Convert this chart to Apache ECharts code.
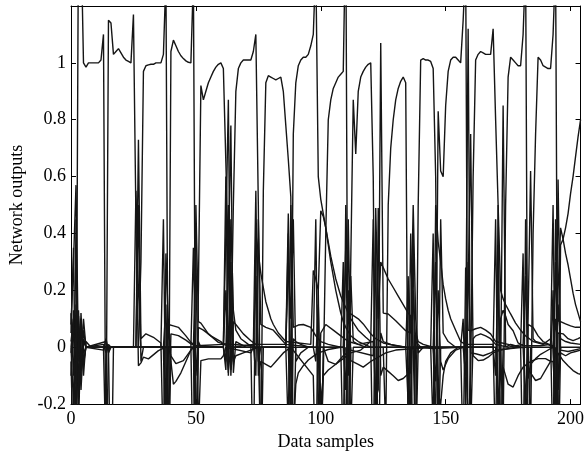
<!DOCTYPE html>
<html><head><meta charset="utf-8">
<script src="https://cdn.jsdelivr.net/npm/echarts@6/dist/echarts.min.js"></script>
<style>html,body{margin:0;padding:0;background:#fff}#c{width:587px;height:456px}</style>
</head><body><div id="c"></div>
<script>
// ---- tick labels ----
const xTickLabels = [0, 50, 100, 150, 200];
const yTickLabels = [-0.2, 0, 0.2, 0.4, 0.6, 0.8, 1];

// ---- active (high) output segments: [sample, output] ----
const seg01 = [[0,0],[1,0.1],[2,-0.4],[3,1.5],[4,1.45],[5,1.0],[6,0.985],[7,1.0],[8,1.0],[9,1.0],[10,1.0],[11,1.0],[12,1.01],[13,1.1],[14,-0.5],[15,0]];
const seg02 = [[13,0],[14,-0.4],[15,1.15],[16,1.14],[17,1.03],[18,1.04],[19,1.05],[20,1.035],[21,1.02],[22,1.01],[23,1.005],[24,1.0],[25,1.17],[26,0.45],[27,-0.065],[28,-0.055],[29,-0.035],[31,-0.041],[35,-0.012],[38,0]];
const seg03 = [[27,0],[28,0.3],[29,0.97],[30,0.99],[31,0.993],[32,0.995],[33,0.995],[34,1.0],[35,1.0],[36,1.0],[37,1.03],[38,1.3],[39,-0.5],[40,0]];
const seg04 = [[38,0],[39,-0.5],[40,1.04],[41,1.08],[42,1.06],[43,1.04],[44,1.025],[45,1.015],[46,1.007],[47,1.002],[48,1.0],[49,1.3],[50,-0.5],[51,0]];
const seg05 = [[49,0],[50,-0.5],[51,0.2],[52,0.92],[53,0.87],[54,0.9],[55,0.93],[56,0.95],[57,0.97],[58,0.985],[59,0.995],[60,1.0],[61,0.98],[62,0.65],[63,0.3],[64,-0.08],[65,0]];
const seg06 = [[62,0],[63,-0.08],[64,0],[65,0.5],[66,0.9],[67,0.98],[68,1.0],[69,1.01],[70,1.01],[71,1.01],[72,1.01],[73,1.04],[74,1.1],[75,0.5],[76,-0.5],[77,0]];
const seg07 = [[75,0],[76,-0.4],[77,0.55],[78,0.93],[79,0.955],[80,0.95],[81,0.945],[82,0.94],[83,0.945],[84,0.95],[85,0.9],[86,0.78],[87,0.66],[88,0.53],[89,-0.4],[90,0]];
const seg08 = [[87,0],[88,-0.3],[89,0.75],[90,0.93],[91,0.99],[92,1.01],[93,1.02],[94,1.02],[95,1.03],[96,1.06],[97,1.1],[98,1.35],[99,0.6],[100,0.52],[101,0.47],[102,0.42],[103,0.36],[104,0.3],[105,0.25],[106,0.2],[107,0.16],[108,0.12],[109,0.09],[110,0.07],[112,0.04],[115,0.02],[120,0]];
const seg09 = [[99,0],[100,-0.4],[101,-0.1],[102,0.4],[103,0.8],[104,0.87],[105,0.91],[106,0.93],[107,0.95],[108,0.96],[109,0.97],[110,1.5],[111,-0.5],[112,0]];
const seg10 = [[110,0],[111,-0.4],[112,0.3],[113,0.87],[114,0.68],[115,0.9],[116,0.95],[117,0.97],[118,0.985],[119,0.995],[120,1.0],[121,0.6],[122,-0.4],[123,0]];
const seg11 = [[125,0],[126,-0.3],[127,0.5],[128,0.7],[129,0.8],[130,0.87],[131,0.91],[132,0.935],[133,0.95],[134,0.93],[135,-0.4],[136,0]];
const seg12 = [[137,0],[138,-0.4],[139,0.5],[140,1.01],[141,1.015],[142,1.01],[143,1.01],[144,1.005],[145,0.98],[146,0.6],[147,-0.4],[148,0]];
const seg13 = [[145,0],[146,-0.3],[147,0.83],[148,0.62],[149,0.6],[150,0.85],[151,0.97],[152,1.01],[153,1.02],[154,1.02],[155,1.01],[156,1.0],[157,1.15],[158,1.35],[159,-0.5],[160,0]];
const seg14 = [[158,0],[159,-0.3],[160,-0.1],[161,0.6],[162,1.01],[163,1.03],[164,1.04],[165,1.035],[166,1.03],[167,1.03],[168,1.03],[169,1.12],[170,0.8],[171,0.5],[172,-0.4],[173,0]];
const seg15 = [[172,0],[173,-0.3],[174,0.5],[175,0.95],[176,1.02],[177,1.01],[178,1.0],[179,0.99],[180,0.99],[181,1.1],[182,1.35],[183,-0.5],[184,0]];
const seg16 = [[183,0],[184,-0.3],[185,0.4],[186,0.75],[187,1.02],[188,1.01],[189,0.99],[190,0.985],[191,0.98],[192,0.98],[193,1.1],[194,1.35],[195,-0.5],[196,0]];
const seg17 = [[194,0],[195,-0.4],[196,0.36],[197,0.38],[198,0.42],[199,0.47],[200,0.54],[201,0.6],[202,0.67],[203,0.74],[204,0.8]];

// ---- other (inactive) outputs ----
const b1 = [[0,0.12],[1,-0.1],[2,0.1],[3,-0.12],[4,0.08],[5,-0.05],[6,0],
[13,0.01],[14,-0.02],[15,0.01],[16,0],
[26,0],[27,0.73],[28,0.03],[30,0.047],[33,0.035],[36,0.015],
[37,-0.4],[38,0.33],[39,0.08],[41,0.075],[43,0.07],[46,0.04],[48,0.017],[50,0.005],
[61,0.01],[62,0.4],[63,0.87],[64,-0.1],[65,0.09],[66,0.08],[69,0.047],[72,0.023],[74,0.01],
[86,0.01],[87,0.47],[88,-0.1],[89,-0.3],[90,-0.13],[91,-0.09],[93,-0.065],[95,-0.045],[98,-0.025],[100,-0.017],[103,-0.008],
[108,0],[109,-0.4],[110,0.5],[111,0.12],[112,0.117],[115,0.1],[117,0.082],[120,0.047],[122,0.03],[125,0.015],[130,0.005],
[134,0],[135,-0.2],[136,0.4],[137,0],
[144,0],[145,-0.3],[146,0.5],[147,0.37],[148,0.3],[149,0.22],[150,0.17],[151,0.13],[152,0.1],[154,0.06],[156,0.02],[158,0.01],
[169,0.01],[170,-0.4],[171,0.5],[172,0.2],[173,0.17],[174,0.15],[176,0.117],[178,0.085],[180,0.06],[182,0.04],[185,0.02],[189,0.01],[192,0.03],
[193,-0.4],[194,0.45],[195,0.093],[196,0.09],[198,0.082],[200,0.075],[202,0.07],[204,0.07]];
const b2 = [[0,-0.1],[1,0.13],[2,-0.13],[3,0.11],[4,-0.08],[5,0.03],[6,0],
[13,-0.01],[14,0.03],[15,-0.01],[16,0],
[37,0],[38,0.15],[39,-0.3],[40,0.047],[43,0.041],[46,0.025],[48,0.012],[50,0.005],
[61,0],[62,-0.08],[63,0.3],[64,0.78],[65,-0.09],[66,0.02],[68,0.01],[70,0],
[86,0],[87,-0.3],[88,0.5],[89,0.07],[91,0.078],[93,0.08],[96,0.07],[98,0.04],[100,0.02],[103,0.01],
[108,0],[109,0.3],[110,-0.5],[111,0.45],[112,-0.047],[115,-0.06],[117,-0.07],[120,-0.05],[122,-0.04],[126,-0.02],[130,-0.01],
[144,0],[145,0.4],[146,-0.5],[147,-0.16],[148,-0.2],[149,-0.1],[150,-0.05],[152,-0.02],[155,0],
[169,0],[170,0.45],[171,-0.3],[172,0.1],[173,0.13],[174,0.11],[175,0.08],[177,0.058],[179,0.015],[181,0.005],[188,0.005],
[192,0.01],[193,0.5],[194,-0.3],[195,0.05],[197,0.047],[199,0.03],[201,0.023],[203,0.03],[204,0.035]];
const b3 = [[0,0.05],[1,0.35],[2,-0.35],[3,0.05],[4,-0.15],[5,0.02],[6,0],
[15,0],[16,-0.6],[17,0],
[37,0],[38,-0.5],[39,0.1],[40,-0.05],[41,-0.13],[42,-0.12],[44,-0.09],[46,-0.05],[48,-0.01],[49,0],
[61,0],[62,0.6],[63,-0.1],[64,0.45],[65,0.13],[66,0.06],[68,0.03],[71,0.01],[74,0],
[86,0],[87,0.4],[88,-0.4],[89,0.03],[90,0.02],[92,0.01],[95,0],
[109,0],[110,0.35],[111,-0.1],[112,0.25],[113,0.02],[115,0.01],[118,0],
[145,0],[146,0.3],[147,-0.3],[148,0.45],[149,0.05],[151,0.02],[154,0],
[169,0],[170,-0.1],[171,0.3],[172,-0.5],[173,-0.07],[174,-0.1],[175,-0.13],[177,-0.14],[179,-0.1],[181,-0.07],[184,-0.05],[187,-0.04],[190,-0.04],[192,-0.05],
[193,0.2],[194,-0.5],[195,-0.02],[197,-0.047],[199,-0.065],[201,-0.082],[203,-0.093],[204,-0.095]];
const b4 = [[0,-0.05],[1,-0.4],[2,0.45],[3,-0.3],[4,0.1],[5,-0.02],[6,0],
[25,0],[26,0.55],[27,0.2],[28,0],
[36,0],[37,0.45],[38,-0.3],[39,0],[40,-0.03],[42,-0.058],[45,-0.047],[48,-0.01],[49,0],
[61,0],[62,-0.05],[63,0.5],[64,0.1],[65,-0.05],[66,-0.03],[69,-0.02],[72,-0.01],[75,0],
[86,0],[87,0.3],[88,0.1],[89,0.45],[90,-0.05],[92,-0.02],[95,0],
[109,0],[110,-0.15],[111,0.2],[112,-0.3],[113,0],
[145,0],[146,-0.12],[147,0.2],[148,-0.05],[149,-0.08],[151,-0.04],[154,-0.01],[157,0],
[170,0],[171,-0.2],[172,-0.1],[173,0.85],[174,0],[176,0.01],[180,0],
[193,0],[194,0.3],[195,-0.15],[196,-0.02],[198,-0.03],[200,-0.02],[202,-0.015],[204,-0.01]];
const b5 = [[0,0.02],[1,0.1],[2,-0.08],[3,0.13],[4,-0.1],[5,0.06],[6,0],
[14,0.02],[15,-0.02],[16,0],
[26,0],[27,0.5],[28,-0.05],[29,0],
[48,0],[49,-0.5],[50,0.5],[51,0.09],[52,0.085],[55,0.047],[59,0.017],[61,0.012],
[72,0.005],[73,-0.5],[74,0.4],[75,0.33],[76,0.26],[77,0.21],[78,0.16],[79,0.13],[80,0.1],[81,0.08],[83,0.05],[86,0.02],
[96,0.01],[97,0.27],[98,0.24],[99,0.2],[100,-0.5],[101,0],[103,-0.05],[106,-0.06],[109,-0.04],[112,-0.02],[116,-0.01],
[120,0.02],[121,-0.5],[122,0.49],[123,0.1],[124,0.3],[125,0.28],[127,0.24],[129,0.21],[131,0.18],[133,0.15],[135,0.12],[136,0.11],
[137,-0.5],[138,0.05],[139,0.02],[141,0.01],[145,0],
[156,0],[157,-0.4],[158,0.28],[159,0.06],[160,0.058],[162,0.065],[164,0.07],[166,0.06],[168,0.047],[170,0.02],[175,0.01],
[180,0],[181,0.33],[182,-0.4],[183,0.08],[185,0.07],[187,0.04],[189,0.02],[191,0.012],[193,0.005],
[194,-0.2],[195,0.15],[196,0.03],[198,0.02],[200,0.015],[204,0.01]];
const b6 = [[0,0],[1,-0.2],[2,0.15],[3,-0.18],[4,0.12],[5,-0.06],[6,0],
[49,0],[50,0.35],[51,-0.3],[52,-0.047],[55,-0.041],[60,-0.041],[61,-0.03],[62,0],
[72,-0.02],[73,0],[74,0.55],[75,-0.1],[76,-0.05],[78,-0.06],[80,-0.07],[82,-0.05],[85,-0.02],[88,0],
[97,-0.1],[98,-0.5],[99,0.2],[100,0.48],[101,0.46],[102,0.42],[103,0.37],[104,0.32],[105,0.28],[106,0.24],[108,0.18],[110,0.14],[112,0.1],[115,0.06],[118,0.035],[120,0.02],
[121,0.45],[122,-0.4],[123,0.49],[124,-0.1],[125,-0.07],[127,-0.085],[129,-0.1],[131,-0.117],[133,-0.11],[135,-0.093],[136,-0.09],
[137,0.38],[138,-0.4],[139,0],[145,-0.005],
[156,0],[157,0.1],[158,-0.2],[159,0.2],[160,0.75],[161,-0.03],[163,-0.047],[165,-0.045],[167,-0.035],[169,-0.02],[172,-0.01],[178,0],
[180,0],[181,-0.5],[182,0.45],[183,-0.07],[184,-0.09],[186,-0.117],[188,-0.11],[190,-0.08],[192,-0.05],[193,-0.05],
[194,-0.2],[195,0.59],[196,-0.01],[199,-0.015],[204,-0.005]];
const b7 = [[0,0.08],[1,0.3],[2,0.57],[3,-0.05],[4,0.1],[5,-0.1],[6,0.02],[8,0],
[49,0],[50,-0.4],[51,0.07],[53,0.06],[56,0.04],[60,0.02],[61,0.01],[65,0],
[73,0.01],[74,-0.1],[75,0.45],[76,0.08],[78,0.07],[81,0.06],[84,0.03],[86,0.01],
[97,0],[98,0.45],[99,-0.3],[100,0.05],[102,0.08],[105,0.06],[108,0.04],[111,0.02],[115,0.01],
[121,0.02],[122,-0.18],[123,-0.15],[124,1.07],[125,0.12],[127,0.117],[130,0.093],[134,0.058],[136,0.05],
[137,0.5],[138,0.1],[139,-0.02],[141,0],[156,0],
[158,0],[159,1.12],[160,-0.3],[161,0.03],[162,0.04],[164,0.047],[166,0.04],[168,0.03],[170,0.01],[175,0],
[181,0.01],[182,0.25],[183,-0.11],[184,-0.06],[186,-0.04],[188,-0.025],[190,-0.015],[193,0],
[194,-0.3],[195,0.2],[196,0.42],[197,0.38],[198,0.33],[199,0.29],[200,0.24],[201,0.19],[202,0.15],[203,0.12],[204,0.09]];
const b8 = [[0,-0.02],[1,0.05],[2,-0.1],[3,0.02],[4,-0.05],[5,0.1],[6,0],
[48,0],[49,0.35],[50,-0.1],[51,0.02],[52,0],
[61,0],[62,0.2],[63,-0.09],[64,0.3],[65,0],
[73,0],[74,0.25],[75,-0.05],[76,0],
[97,0],[98,-0.05],[99,0.15],[100,-0.2],[101,-0.1],[103,-0.08],[106,-0.06],[109,-0.03],[112,-0.01],
[121,-0.03],[122,0.35],[123,-0.5],[124,0.05],[125,0.02],[128,0.01],
[134,0],[135,0.25],[136,-0.3],[137,0.2],[138,0.02],[140,0],
[157,0],[158,-0.1],[159,0.3],[160,-0.02],[162,-0.023],[165,-0.03],[168,-0.02],[170,-0.01],
[181,0],[182,-0.2],[183,0.1],[184,0.62],[185,0.03],[186,0.02],[188,0.015],[191,0.01],
[193,0],[194,0.1],[195,-0.1],[196,0],[204,0]];

const activeSegments = [seg01,seg02,seg03,seg04,seg05,seg06,seg07,seg08,seg09,seg10,seg11,seg12,seg13,seg14,seg15,seg16,seg17];
const otherOutputs = [b1,b2,b3,b4,b5,b6,b7,b8];

const FONT = 'Liberation Serif';
const INK = '#000';

function fmtX(v){ return xTickLabels.indexOf(v) >= 0 ? String(v) : ''; }
function fmtY(v){
  const r = Math.round(v*10)/10;
  return yTickLabels.some(t => Math.abs(t - r) < 1e-9) ? String(r) : '';
}

const tickStyle = {inside:true, length:5, lineStyle:{color:INK, width:1}};
const lineAxis = {show:true, onZero:false, lineStyle:{color:INK, width:1}};
const labelStyle = {color:INK, fontFamily:FONT, fontSize:18};

const series = [];
otherOutputs.concat(activeSegments).forEach((d) => {
  series.push({
    type:'line', data:d, xAxisIndex:0, yAxisIndex:0,
    symbol:'none', showSymbol:false, clip:true, silent:true,
    lineStyle:{color:'#151515', width:1.4}, z:2
  });
});

const chart = echarts.init(document.getElementById('c'), null, {renderer:'canvas'});
chart.setOption({
  animation:false,
  backgroundColor:'#fff',
  grid:{left:68, right:4, top:6, bottom:49, containLabel:false},
  xAxis:[
    {type:'value', min:0, max:204, interval:50, position:'bottom',
     axisLine:lineAxis, axisTick:tickStyle, splitLine:{show:false},
     axisLabel:Object.assign({formatter:fmtX, margin:6}, labelStyle),
     name:'Data samples', nameLocation:'middle', nameGap:24,
     nameTextStyle:{color:INK, fontFamily:FONT, fontSize:18}},
    {type:'value', min:0, max:204, interval:50, position:'top',
     axisLine:lineAxis, axisTick:tickStyle, splitLine:{show:false},
     axisLabel:{show:false}}
  ],
  yAxis:[
    {type:'value', min:-0.2, max:1.2, interval:0.2, position:'left',
     axisLine:lineAxis, axisTick:tickStyle, splitLine:{show:false},
     axisLabel:Object.assign({formatter:fmtY, margin:5}, labelStyle),
     name:'Network outputs', nameLocation:'middle', nameGap:45,
     nameTextStyle:{color:INK, fontFamily:FONT, fontSize:18}},
    {type:'value', min:-0.2, max:1.2, interval:0.2, position:'right',
     axisLine:lineAxis, axisTick:tickStyle, splitLine:{show:false},
     axisLabel:{show:false}}
  ],
  series:series
});
</script>
</body></html>
